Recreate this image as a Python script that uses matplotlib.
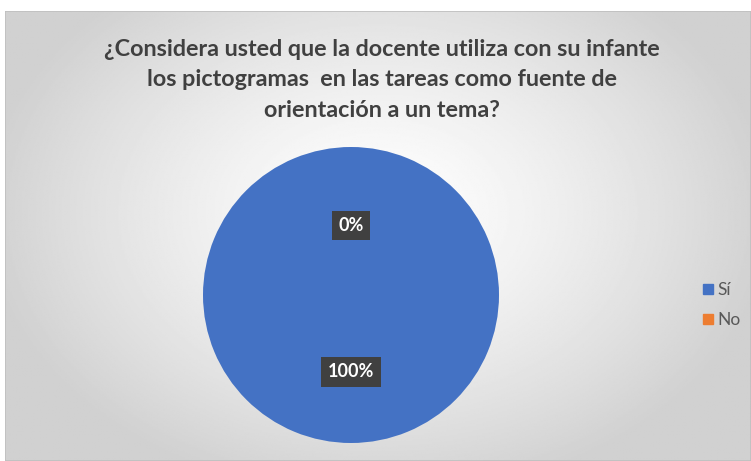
import numpy as np
import matplotlib.pyplot as plt
from matplotlib.patches import Rectangle

plt.rcParams['font.family'] = ['Lato', 'DejaVu Sans']

categorias = ['Sí', 'No']
valores = [100, 0]
etiquetas = ['100%', '0%']
colores = ['#4472C4', '#ED7D31']
titulo = '¿Considera usted que la docente utiliza con su infante\nlos pictogramas  en las tareas como fuente de\norientación a un tema?'

W, H = 751, 461
fig = plt.figure(figsize=(W / 100, H / 100), dpi=100)

# fondo con degradado radial
bg = fig.add_axes([5 / W, 0, (W - 5) / W, (H - 11) / H])
yy, xx = np.mgrid[0:1:300j, 0:1:500j]
r = np.sqrt(((xx - 0.5) / 0.75) ** 2 + ((yy - 0.55) / 0.9) ** 2)
r = np.clip(r / 0.7, 0, 1)
grad = 1.0 - 0.18 * r ** 1.3
bg.imshow(grad, cmap='gray', vmin=0, vmax=1, aspect='auto', extent=[0, 1, 0, 1], origin='lower')
bg.set_xlim(0, 1)
bg.set_ylim(0, 1)
bg.axis('off')
bg.add_patch(Rectangle((0, 0), 1, 1, transform=bg.transAxes, fill=False,
                       edgecolor='#bfbfbf', lw=1.2))

fig.text(382 / W, 1 - 80 / H, titulo, ha='center', va='center', fontsize=16.8,
         fontweight='bold', color='#404040', linespacing=1.55)

# pastel
ax = fig.add_axes([203 / W, (H - 443) / H, 296 / W, 296 / H])
wedges, _ = ax.pie(valores, colors=colores, startangle=90, counterclock=False,
                   wedgeprops=dict(linewidth=0))
ax.set_xlim(-1, 1)
ax.set_ylim(-1, 1)
ax.set_aspect('equal')

# etiquetas de datos
pos = [(0, -0.52), (0, 0.47)]
for (x, y), t in zip(pos, etiquetas):
    ax.text(x, y, t, ha='center', va='center', fontsize=13, fontweight='bold',
            color='white',
            bbox=dict(boxstyle='square,pad=0.35', fc='#404040', ec='none'))

handles = [Rectangle((0, 0), 1, 1, color=c) for c in colores]
fig.legend(handles, categorias, loc='center left', bbox_to_anchor=(703 / W, 1 - 305 / H),
           frameon=False, fontsize=12.5, handlelength=0.55, handleheight=0.55,
           handletextpad=0.3, labelspacing=0.8, labelcolor='#595959',
           borderpad=0, borderaxespad=0)

fig.savefig('out.png', dpi=100)
